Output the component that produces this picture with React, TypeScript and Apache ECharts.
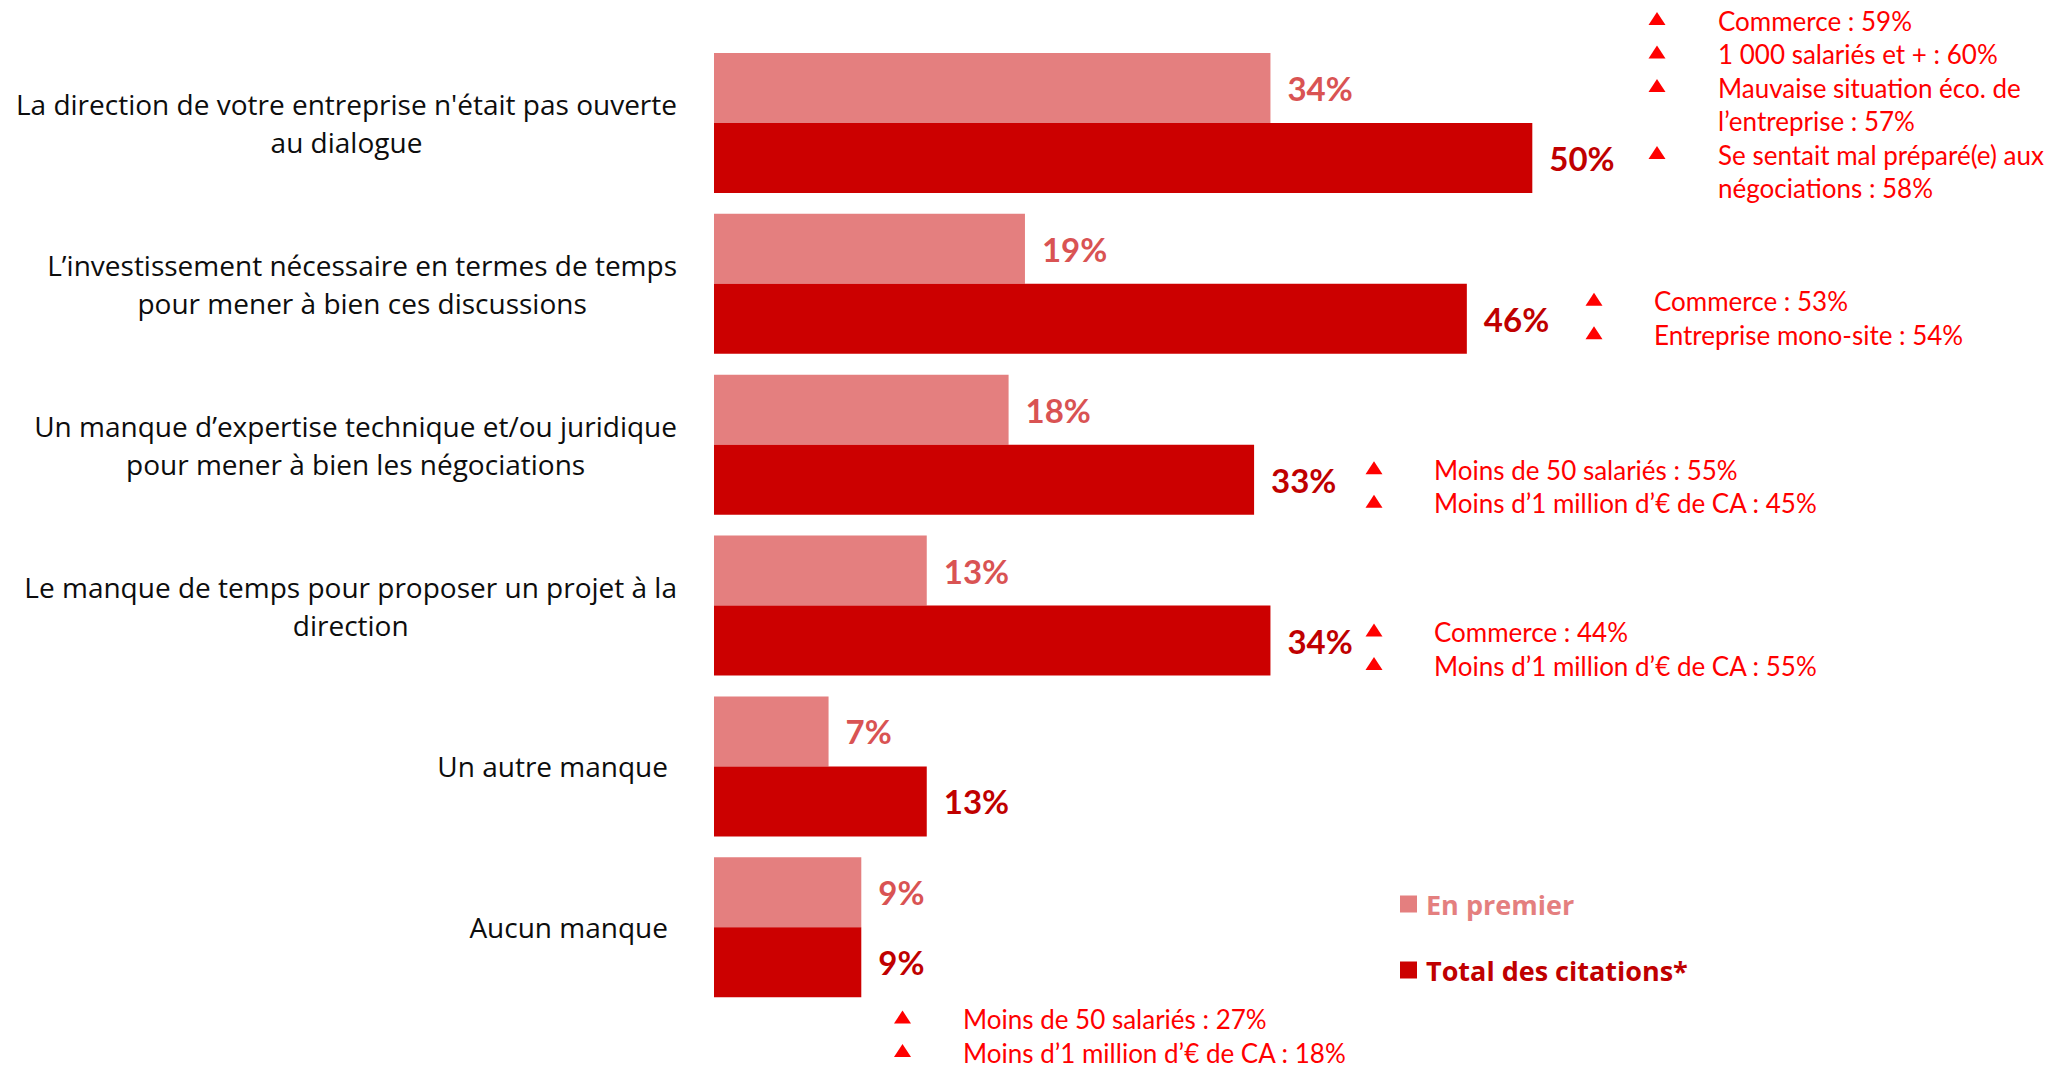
import React, { useEffect, useRef } from 'react';
import * as echarts from 'echarts';

// ---------- DATA ----------
const categories = [
  "La direction de votre entreprise n'était pas ouverte\nau dialogue",
  'L’investissement nécessaire en termes de temps\npour mener à bien ces discussions',
  'Un manque d’expertise technique et/ou juridique\npour mener à bien les négociations',
  'Le manque de temps pour proposer un projet à la\ndirection',
  'Un autre manque',
  'Aucun manque',
];
const seriesNames = ['En premier', 'Total des citations*'];
const enPremier = [34, 19, 18, 13, 7, 9];
const totalCitations = [50, 46, 33, 34, 13, 9];

const notes1 = [
  'Commerce : 59%',
  '1 000 salariés et + : 60%',
  'Mauvaise situation éco. de',
  'l’entreprise : 57%',
  'Se sentait mal préparé(e) aux',
  'négociations : 58%',
];
const notes1Markers = [true, true, true, false, true, false];
const notes2 = ['Commerce : 53%', 'Entreprise mono-site : 54%'];
const notes3 = ['Moins de 50 salariés : 55%', 'Moins d’1 million d’€ de CA : 45%'];
const notes4 = ['Commerce : 44%', 'Moins d’1 million d’€ de CA : 55%'];
const notes6 = ['Moins de 50 salariés : 27%', 'Moins d’1 million d’€ de CA : 18%'];

// ---------- STYLE / LAYOUT ----------
const FONT = 'Lato, "Open Sans", sans-serif';
const FONT_WIDE = '"Open Sans", Lato, sans-serif';
const LIGHT = '#E47F7F';
const DARK = '#CC0000';
const LIGHT_LABEL = '#D95353';
const DARK_LABEL = '#C00000';
const NOTE_RED = '#FF0000';

const noteBlocks = [
  { lines: notes1, markers: notes1Markers, triX: 1657, textX: 1718, y0: 20.5 },
  { lines: notes2, markers: [true, true], triX: 1594, textX: 1654, y0: 301.3 },
  { lines: notes3, markers: [true, true], triX: 1374, textX: 1434, y0: 469.7 },
  { lines: notes4, markers: [true, true], triX: 1374, textX: 1434, y0: 632 },
  { lines: notes6, markers: [true, true], triX: 902.5, textX: 963, y0: 1019 },
];
const NOTE_STEP = 33.5;

function buildGraphics() {
  const els: any[] = [];
  noteBlocks.forEach((b) => {
    b.lines.forEach((line, i) => {
      const y = b.y0 + i * NOTE_STEP;
      if (b.markers[i]) {
        els.push({
          type: 'polygon',
          x: b.triX,
          y: y - 2,
          silent: true,
          shape: { points: [[-8.5, 6.5], [8.5, 6.5], [0, -6.5]] },
          style: { fill: NOTE_RED },
        });
      }
      els.push({
        type: 'text',
        x: b.textX,
        y,
        silent: true,
        style: {
          text: line,
          fill: NOTE_RED,
          fontSize: 26,
          lineHeight: 22,
          fontFamily: FONT,
          align: 'left',
          verticalAlign: 'middle',
        },
      });
    });
  });
  return els;
}

export default function App() {
  const ref = useRef<HTMLDivElement>(null);

  useEffect(() => {
    if (!ref.current) return;
    const chart = echarts.init(ref.current, undefined, { renderer: 'svg' });
    const option: any = {
      animation: false,
      backgroundColor: '#ffffff',
      grid: { left: 714, right: 41.7, top: 42.5, bottom: 60.2, containLabel: false },
      xAxis: { type: 'value', min: 0, max: 80, show: false },
      yAxis: {
        type: 'category',
        data: categories,
        inverse: true,
        axisLine: { show: false },
        axisTick: { show: false },
        splitLine: { show: false },
        axisLabel: {
          margin: 37,
          formatter: (v: string) => {
            const lines = v.split('\n');
            if (lines.length === 1) return `{s|${v}}`;
            return lines.map((l) => `{c|${l}}`).join('\n');
          },
          rich: {
            c: { align: 'center', fontSize: 28, lineHeight: 38, fontFamily: FONT_WIDE, color: '#0d0d0d' },
            s: { fontSize: 28, lineHeight: 38, fontFamily: FONT_WIDE, color: '#0d0d0d', padding: [0, 9, 0, 0] },
          },
        },
      },
      legend: {
        orient: 'vertical',
        left: 1400,
        top: 890.5,
        padding: 0,
        itemWidth: 17,
        itemHeight: 17,
        itemGap: 39,
        icon: 'rect',
        selectedMode: false,
        data: [
          { name: seriesNames[0], textStyle: { color: LIGHT } },
          { name: seriesNames[1], textStyle: { color: DARK_LABEL } },
        ],
        textStyle: { fontSize: 27, fontWeight: 'bold', fontFamily: FONT_WIDE, padding: [0, 0, 0, 4] },
      },
      series: [
        {
          name: seriesNames[0],
          type: 'bar',
          data: enPremier,
          barGap: '0%',
          barCategoryGap: '13%',
          itemStyle: { color: LIGHT },
          label: {
            show: true,
            position: 'right',
            distance: 17,
            formatter: '{c}%',
            color: LIGHT_LABEL,
            fontSize: 33,
            fontWeight: 'bold',
            fontFamily: FONT,
          },
        },
        {
          name: seriesNames[1],
          type: 'bar',
          data: totalCitations,
          barGap: '0%',
          barCategoryGap: '13%',
          itemStyle: { color: DARK },
          label: {
            show: true,
            position: 'right',
            distance: 17,
            formatter: '{c}%',
            color: DARK_LABEL,
            fontSize: 33,
            fontWeight: 'bold',
            fontFamily: FONT,
          },
        },
      ],
      graphic: buildGraphics(),
    };
    chart.setOption(option);
    return () => chart.dispose();
  }, []);

  return (
    <div
      ref={ref}
      style={{ position: 'fixed', left: 0, top: 0, width: 2065, height: 1068, background: '#fff' }}
    />
  );
}
